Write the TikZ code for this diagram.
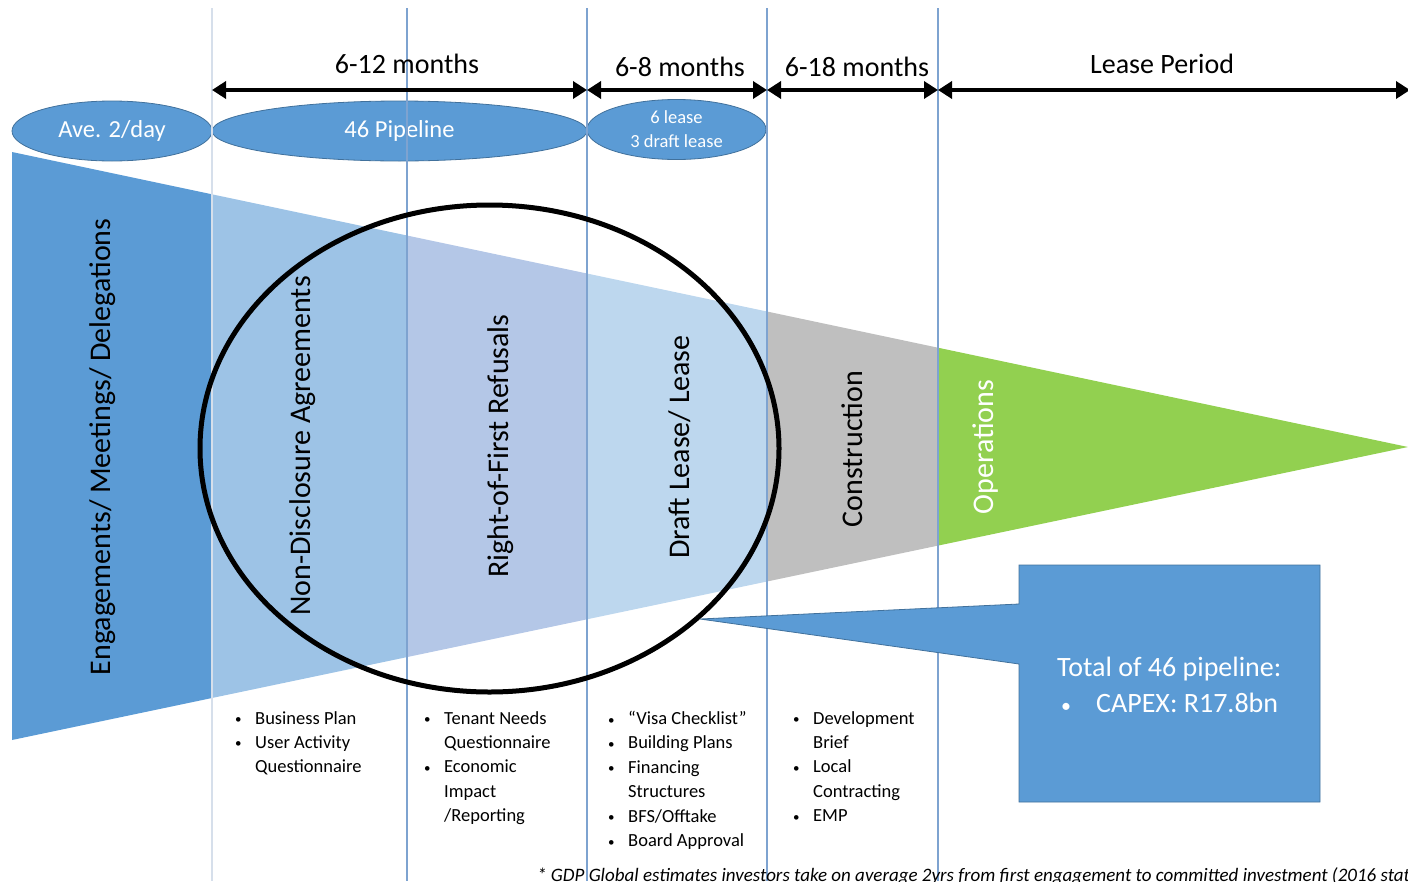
\documentclass[tikz,border=0pt]{standalone}
\usepackage{fontspec}
\setmainfont{Carlito}
\usetikzlibrary{arrows.meta,shapes.geometric}

\definecolor{bluemid}{HTML}{5B9BD5}
\definecolor{bluelight}{HTML}{9DC3E6}
\definecolor{lavblue}{HTML}{B4C7E7}
\definecolor{bluepale}{HTML}{BDD7EE}
\definecolor{greyc}{HTML}{BFBFBF}
\definecolor{greenc}{HTML}{92D050}
\definecolor{vlinec}{HTML}{7EA3D0}
\definecolor{vlinelt}{HTML}{D6DFEB}
\definecolor{bordc}{HTML}{41719C}

\newcommand{\bi}{\makebox[22pt][l]{\hspace{2pt}\raisebox{0.5pt}{\fontsize{13}{13}\selectfont •}}}
\newcommand{\bc}{\hspace*{22pt}}

\tikzset{
  vline/.style={draw=vlinec, line width=1.2pt},
  period/.style={line width=4.5pt, {Triangle[length=14pt,width=17pt]}-{Triangle[length=14pt,width=17pt]}},
  periodlabel/.style={font=\fontsize{28}{32}\selectfont, inner sep=0pt},
  bubble/.style={ellipse, fill=bluemid, draw=bordc, line width=0.8pt, text=white, inner sep=0pt, minimum height=60pt},
  stage/.style={rotate=90, font=\fontsize{30}{34}\selectfont, inner sep=0pt},
  blist/.style={font=\fontsize{18.5}{24.4}\selectfont, align=left, inner sep=0pt, anchor=north west},
}

\begin{document}
\begin{tikzpicture}[x=1pt,y=-1pt]
\useasboundingbox (0,0) rectangle (1408,881);
\clip (0,0) rectangle (1408,881);

% funnel sections
\fill[bluemid]   (12,152) -- (212,194.3) -- (212,698.0) -- (12,740) -- cycle;
\fill[bluelight] (212,194.3) -- (407,235.5) -- (407,657.1) -- (212,698.0) -- cycle;
\fill[lavblue]   (407,235.5) -- (587,273.5) -- (587,619.3) -- (407,657.1) -- cycle;
\fill[bluepale]  (587,273.5) -- (767,311.5) -- (767,581.5) -- (587,619.3) -- cycle;
\fill[greyc]     (767,311.5) -- (938,347.7) -- (938,545.6) -- (767,581.5) -- cycle;
\fill[greenc]    (938,347.7) -- (1408,447) -- (938,545.6) -- cycle;

% bubbles
\node[bubble, minimum width=200pt, font=\fontsize{24.5}{28}\selectfont] (ave) at (112,131) {Ave. 2/day};
\node[bubble, minimum width=375pt, font=\fontsize{24.5}{28}\selectfont] (pipe) at (399.5,131) {46 Pipeline};
\node[bubble, minimum width=179pt, align=center, font=\fontsize{18.5}{24}\selectfont] (lease) at (676.5,129.5) {6 lease\\3 draft lease};

% vertical separators
\draw[draw=vlinelt, line width=1.2pt] (212,8) -- (212,881);
\draw[vline] (407,8) -- (407,881);
\draw[vline] (587,8) -- (587,881);
\draw[vline] (767,8) -- (767,881);
\draw[vline] (938,8) -- (938,881);

% big circle
\draw[line width=5pt] (489.5,448.5) ellipse [x radius=289.5, y radius=243.5];

% callout
\fill[bluemid, draw=bordc, line width=0.8pt] (1019,565) -- (1320,565) -- (1320,802) -- (1019,802) -- (1019,664) -- (700,619) -- (1019,604) -- cycle;
\node[font=\fontsize{28}{36}\selectfont, text=white, align=left, inner sep=0pt, anchor=west] (total) at (1057,685)
  {Total of 46 pipeline:\\\hspace*{4pt}\makebox[35pt][l]{\fontsize{20}{20}\selectfont •}CAPEX: R17.8bn};

% period arrows
\coordinate (t0) at (212,90);
\coordinate (t1) at (587,90);
\coordinate (t2) at (767,90);
\coordinate (t3) at (938,90);
\coordinate (t4) at (1410,90);
\draw[period] (t0) -- (t1);
\draw[period] (t1) -- (t2);
\draw[period] (t2) -- (t3);
\draw[period] (t3) -- (t4);
\node[periodlabel] (p1) at (407,64) {6-12 months};
\node[periodlabel] (p2) at (680,67) {6-8 months};
\node[periodlabel] (p3) at (857,67) {6-18 months};
\node[periodlabel] (p4) at (1162,64) {Lease Period};

% stage labels
\node[stage] (s1) at (103,447) {Engagements/ Meetings/ Delegations};
\node[stage] (s2) at (303,446) {Non-Disclosure Agreements};
\node[stage] (s3) at (501,446) {Right-of-First Refusals};
\node[stage] (s4) at (680,447) {Draft Lease/ Lease};
\node[stage] (s5) at (852,449) {Construction};
\node[stage, text=white] (s6) at (986,447) {Operations};

% bullet lists
\node[blist] (l1) at (233,711) {\bi Business Plan\\\bi User Activity\\\bc Questionnaire};
\node[blist] (l2) at (422,711) {\bi Tenant Needs\\\bc Questionnaire\\\bi Economic\\\bc Impact\\\bc /Reporting};
\node[blist] (l3) at (606,711) {\bi “Visa Checklist”\\\bi Building Plans\\\bi Financing\\\bc Structures\\\bi BFS/Offtake\\\bi Board Approval};
\node[blist] (l4) at (791,711) {\bi Development\\\bc Brief\\\bi Local\\\bc Contracting\\\bi EMP};

% footnote
\node[font=\fontsize{19}{22}\selectfont\itshape, anchor=base west, inner sep=0pt] (note) at (537,881)
  {* GDP Global estimates investors take on average 2yrs from first engagement to committed investment (2016 stats)};
\end{tikzpicture}
\end{document}
